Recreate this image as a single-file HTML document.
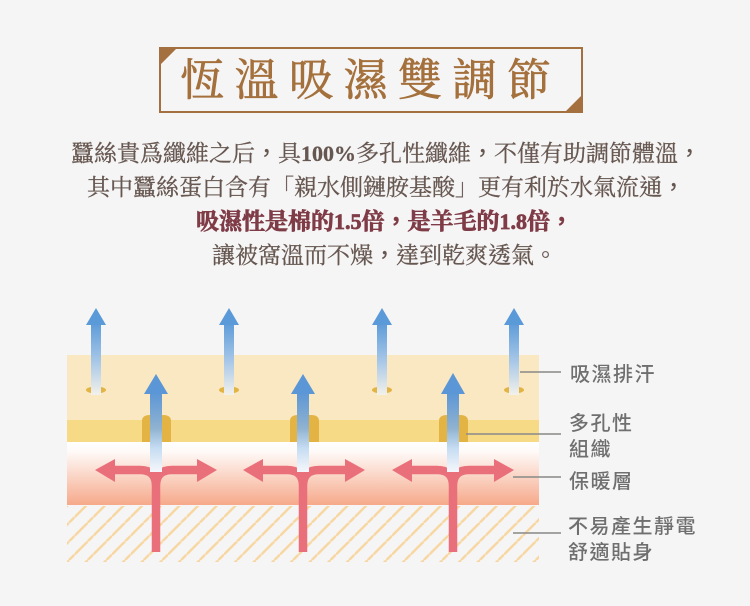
<!DOCTYPE html>
<html lang="zh-Hant">
<head>
<meta charset="utf-8">
<style>
html,body{margin:0;padding:0;width:750px;height:606px;overflow:hidden;background:#f6f5f6}
svg{display:block;filter:blur(.35px)}
.t{font-family:"Liberation Serif","Noto Serif CJK SC",serif}
.b{font-size:23px;fill:#665750;stroke:#665750;stroke-width:.3px}
.r{font-size:23px;fill:#7f3c47;stroke:#7f3c47;stroke-width:.7px;font-weight:700}
.d{font-weight:700;font-size:22px}
.l{font-size:20px;fill:#6f6f6f;font-family:"Liberation Sans","Noto Sans CJK TC",sans-serif;font-weight:500}
.c{font-family:"Noto Sans CJK TC",sans-serif;stroke-width:.2px}
</style>
</head>
<body>
<svg width="750" height="606" viewBox="0 0 750 606" xmlns="http://www.w3.org/2000/svg">
<defs>
<linearGradient id="warm" x1="0" y1="0" x2="0" y2="1">
<stop offset="0" stop-color="#ffffff"/><stop offset=".15" stop-color="#fefaf8"/><stop offset="1" stop-color="#f6a98a"/>
</linearGradient>
<linearGradient id="s1" x1="0" y1="0" x2="0" y2="1">
<stop offset="0" stop-color="#5b9ad8"/><stop offset=".55" stop-color="#a9c8e8"/><stop offset="1" stop-color="#f3f1ea"/>
</linearGradient>
<linearGradient id="s2" x1="0" y1="0" x2="0" y2="1">
<stop offset="0" stop-color="#5b96d6"/><stop offset=".45" stop-color="#8fb2d0"/><stop offset=".7" stop-color="#c5dcf2"/><stop offset="1" stop-color="#f5f7fb"/>
</linearGradient>
<pattern id="hatch" patternUnits="userSpaceOnUse" width="18.67" height="18.67">
<path d="M0 13L13 0M13 18.67L18.67 13" stroke="#f7d6a0" stroke-width="2.4" fill="none"/>
</pattern>
</defs>

<rect x="160" y="48" width="422" height="64" fill="none" stroke="#a5703f" stroke-width="2"/>
<polygon points="159,47 178,47 159,66" fill="#a5703f"/>
<polygon points="583,113 564,113 583,94" fill="#a5703f"/>
<text class="t" x="180" y="95" font-size="44" fill="#a4703c" stroke="#a4703c" stroke-width=".7" letter-spacing="10.5">恆溫吸濕雙調節</text>

<text class="t b" x="71" y="161">蠶絲貴爲纖維之后<tspan class="c">&#xFF0C;</tspan>具<tspan class="d">100%</tspan>多孔性纖維<tspan class="c">&#xFF0C;</tspan>不僅有助調節體溫<tspan class="c">&#xFF0C;</tspan></text>
<text class="t b" x="87" y="195">其中蠶絲蛋白含有「親水側鏈胺基酸」更有利於水氣流通<tspan class="c">&#xFF0C;</tspan></text>
<text class="t r" x="196" y="229">吸濕性是棉的<tspan class="d">1.5</tspan>倍<tspan class="c">&#xFF0C;</tspan>是羊毛的<tspan class="d">1.8</tspan>倍<tspan class="c">&#xFF0C;</tspan></text>
<text class="t b" x="212" y="263">讓被窩溫而不燥<tspan class="c">&#xFF0C;</tspan>達到乾爽透氣。</text>

<rect x="67" y="355" width="472" height="65" fill="#f9e8c2"/>
<rect x="67" y="420" width="472" height="22" fill="#f7da85"/>
<rect x="67" y="442" width="472" height="63" fill="url(#warm)"/>
<rect x="67" y="506" width="472" height="56" fill="url(#hatch)"/>

<path d="M142 442V421Q142 415 150 415H163Q171 415 171 421V442Z" fill="#e3b444"/>
<path d="M290 442V421Q290 415 298 415H311Q319 415 319 421V442Z" fill="#e3b444"/>
<path d="M439 442V421Q439 415 447 415H460Q468 415 468 421V442Z" fill="#e3b444"/>

<ellipse cx="96" cy="390" rx="10" ry="3.5" fill="#e3b444"/>
<ellipse cx="229" cy="390" rx="10" ry="3.5" fill="#e3b444"/>
<ellipse cx="382" cy="390" rx="10" ry="3.5" fill="#e3b444"/>
<ellipse cx="514" cy="390" rx="10" ry="3.5" fill="#e3b444"/>

<g fill="none" stroke="#e96f7b" stroke-width="8.5">
<path d="M156 552V486Q156 470 140 470H113M156 486Q156 470 172 470H199"/>
<path d="M303 552V486Q303 470 287 470H260M303 486Q303 470 319 470H346"/>
<path d="M453 552V486Q453 470 437 470H410M453 486Q453 470 469 470H496"/>
</g>
<g fill="#e96f7b">
<polygon points="95,470 115,459 115,482"/><polygon points="217,470 197,459 197,482"/>
<polygon points="243,470 263,459 263,482"/><polygon points="365,470 345,459 345,482"/>
<polygon points="392,470 412,459 412,482"/><polygon points="514,470 494,459 494,482"/>
</g>

<rect x="91" y="322" width="10" height="73" fill="url(#s1)"/><polygon points="96,308 106,325 86,325" fill="#5b9ad8"/>
<rect x="224" y="322" width="10" height="73" fill="url(#s1)"/><polygon points="229,308 239,325 219,325" fill="#5b9ad8"/>
<rect x="377" y="322" width="10" height="73" fill="url(#s1)"/><polygon points="382,308 392,325 372,325" fill="#5b9ad8"/>
<rect x="509" y="322" width="10" height="73" fill="url(#s1)"/><polygon points="514,308 524,325 504,325" fill="#5b9ad8"/>

<rect x="150" y="392" width="12" height="80" fill="url(#s2)"/><polygon points="156,374 168,394 144,394" fill="#5b96d6"/>
<rect x="297" y="392" width="12" height="80" fill="url(#s2)"/><polygon points="303,374 315,394 291,394" fill="#5b96d6"/>
<rect x="447" y="392" width="12" height="80" fill="url(#s2)"/><polygon points="453,373 465,394 441,394" fill="#5b96d6"/>

<g stroke="#8f8f8c" stroke-width="2" opacity=".8">
<line x1="520" y1="372" x2="561" y2="372"/>
<line x1="466" y1="434" x2="561" y2="434"/>
<line x1="513" y1="477" x2="561" y2="477"/>
<line x1="513" y1="533" x2="561" y2="533"/>
</g>

<text class="l" x="570" y="381" letter-spacing="1.5">吸濕排汗</text>
<text class="l" x="569" y="430" letter-spacing="1.5">多孔性</text>
<text class="l" x="569" y="456" letter-spacing="1.5">組織</text>
<text class="l" x="569" y="488" letter-spacing="1.5">保暖層</text>
<text class="l" x="568" y="533" letter-spacing="1.5">不易產生靜電</text>
<text class="l" x="568" y="559" letter-spacing="1.5">舒適貼身</text>
</svg>
</body>
</html>
